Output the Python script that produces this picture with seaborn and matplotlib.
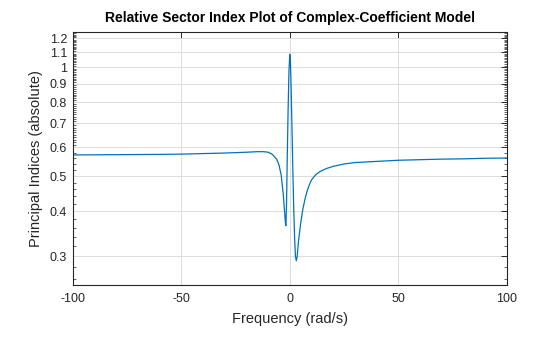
import numpy as np
import pandas as pd
import matplotlib
matplotlib.use("Agg")
import matplotlib.pyplot as plt
import seaborn as sns
from matplotlib.ticker import FixedLocator, FixedFormatter, NullFormatter

freq = [-100, -80, -60, -50, -40, -30, -20, -15, -12, -10, -8, -6, -5, -4, -3, -2.5,
        -2, -1.8, -1.5, -1.2, -0.8, -0.4, 0, 0.3, 0.6, 1.0, 1.4, 1.8, 2.2, 2.6, 3.0,
        3.4, 4, 5, 6, 7, 8, 9, 10, 12, 14, 17, 20, 25, 30, 40, 50, 60, 70, 80, 90, 100]
index = [0.572, 0.573, 0.574, 0.575, 0.577, 0.579, 0.582, 0.584, 0.584, 0.582, 0.574,
         0.556, 0.537, 0.505, 0.445, 0.405, 0.37, 0.365, 0.42, 0.55, 0.75, 0.97, 1.085,
         1.03, 0.88, 0.68, 0.52, 0.41, 0.34, 0.30, 0.292, 0.30, 0.33, 0.37, 0.405,
         0.432, 0.455, 0.473, 0.488, 0.505, 0.515, 0.525, 0.532, 0.540, 0.545, 0.549,
         0.553, 0.555, 0.557, 0.558, 0.56, 0.561]

xticks = [-100, -50, 0, 50, 100]
yticks = [0.3, 0.4, 0.5, 0.6, 0.7, 0.8, 0.9, 1.0, 1.1, 1.2]
ytick_labels = ["0.3", "0.4", "0.5", "0.6", "0.7", "0.8", "0.9", "1", "1.1", "1.2"]

df = pd.DataFrame({"Frequency": freq, "Index": index})

sns.set_theme(style="white")
plt.rcParams["font.family"] = ["Liberation Sans", "DejaVu Sans"]

fig = plt.figure(figsize=(5.6, 3.37), dpi=100)
ax = fig.add_axes([0.130, 0.154, 0.775, 0.751])

sns.lineplot(data=df, x="Frequency", y="Index", ax=ax, color="#0072BD", linewidth=0.9)

ax.set_yscale("log")
ax.set_xlim(-100, 100)
ax.set_ylim(0.25, 1.25)

ax.xaxis.set_major_locator(FixedLocator(xticks))
ax.set_xticklabels([str(t) for t in xticks])
ax.yaxis.set_major_locator(FixedLocator(yticks))
ax.yaxis.set_major_formatter(FixedFormatter(ytick_labels))
minor = [round(v, 2) for v in np.arange(0.26, 0.6, 0.02)] + \
        [round(v, 2) for v in np.arange(0.61, 1.25, 0.01)]
minor = [m for m in minor if all(abs(m - t) > 1e-6 for t in yticks)]
ax.yaxis.set_minor_locator(FixedLocator(minor))
ax.yaxis.set_minor_formatter(NullFormatter())

ax.grid(True, which="major", color="#DCDCDC", linewidth=0.7)
ax.tick_params(axis="both", which="major", direction="in", length=4, width=0.7,
               top=True, right=True, labelsize=9, colors="#262626", pad=4)
ax.tick_params(axis="x", which="major", pad=6)
ax.tick_params(axis="y", which="minor", direction="in", length=2, width=0.5,
               left=True, right=True)
for s in ax.spines.values():
    s.set_color("#262626")
    s.set_linewidth(0.8)

ax.set_xlabel("Frequency (rad/s)", fontsize=10.5, color="#262626", labelpad=5)
ax.set_ylabel("Principal Indices (absolute)", fontsize=10.5, color="#262626", labelpad=5)
ax.set_title("Relative Sector Index Plot of Complex-Coefficient Model",
             fontsize=10, fontweight="bold", color="#000000", pad=7)

fig.savefig("out.png", dpi=100)
